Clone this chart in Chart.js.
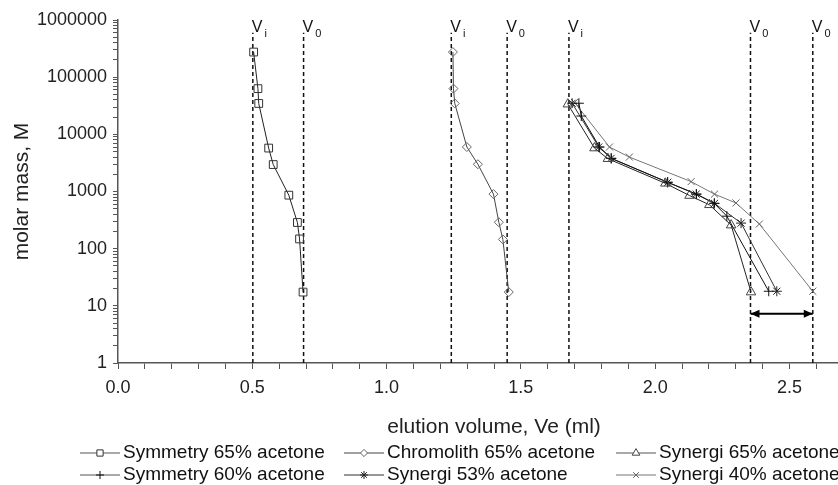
<!DOCTYPE html>
<html>
<head>
<meta charset="utf-8">
<script src="https://cdn.jsdelivr.net/npm/chart.js@4.4.0/dist/chart.umd.min.js"></script>
<style>
html, body { margin: 0; padding: 0; background: #fff; overflow: hidden; }
#wrap { width: 880px; height: 485px; }
</style>
</head>
<body>
<div id="wrap"><canvas id="canvas" width="880" height="485"></canvas></div>
<script>
// molar mass (M) and elution volume (ml) of each standard
const symmetry65M = [275000, 63000, 34700, 5750, 2960, 863, 287, 148, 17.4];
const symmetry65Ve = [0.505, 0.521, 0.524, 0.561, 0.578, 0.636, 0.668, 0.676, 0.689];
const chromolith65M = [275000, 63000, 34700, 6000, 3000, 900, 290, 145, 17.4];
const chromolith65Ve = [1.247, 1.249, 1.254, 1.299, 1.340, 1.398, 1.418, 1.433, 1.455];
const synergi65M = [33700, 5750, 3750, 1390, 850, 585, 258, 17.4];
const synergi65Ve = [1.675, 1.774, 1.824, 2.038, 2.128, 2.202, 2.283, 2.357];
const symmetry60M = [35000, 20900, 6000, 3800, 1450, 900, 620, 370, 18];
const symmetry60Ve = [1.716, 1.725, 1.793, 1.837, 2.046, 2.154, 2.220, 2.267, 2.423];
const synergi53M = [35000, 6000, 3800, 1450, 900, 620, 280, 18];
const synergi53Ve = [1.691, 1.790, 1.836, 2.047, 2.153, 2.221, 2.320, 2.453];
const synergi40M = [36000, 6000, 4000, 1490, 900, 630, 270, 18];
const synergi40Ve = [1.700, 1.830, 1.904, 2.134, 2.221, 2.301, 2.388, 2.587];

// Vi / V0 marker lines
const vLineVe = [0.502, 0.691, 1.241, 1.449, 1.679, 2.355, 2.587];
const vLineSub = ['i', '0', 'i', '0', 'i', '0', '0'];
const vLineTopM = 600000;
const arrowM = 7.3;

const xTickLabels = ['0.0', '0.5', '1.0', '1.5', '2.0', '2.5'];
const yTickLabels = ['1', '10', '100', '1000', '10000', '100000', '1000000'];

const FONT = '"Liberation Sans", Arial, sans-serif';

function pts(xs, ys) {
  return xs.map((v, i) => ({ x: v, y: ys[i] }));
}

function series(label, xs, ys, style, radius, line, mark) {
  return {
    label: label,
    data: pts(xs, ys),
    showLine: true,
    borderColor: line,
    borderWidth: 1,
    tension: 0,
    pointStyle: style,
    pointRadius: radius,
    pointBorderColor: mark,
    pointBackgroundColor: 'rgba(255,255,255,0)',
    pointBorderWidth: 1,
    inLegend: true
  };
}

const datasets = [
  series('Symmetry 65% acetone', symmetry65Ve, symmetry65M, 'rect', 5.5, '#222', '#333'),
  series('Chromolith 65% acetone', chromolith65Ve, chromolith65M, 'rectRot', 4.5, '#444', '#666'),
  series('Synergi 65% acetone', synergi65Ve, synergi65M, 'triangle', 5.5, '#222', '#444'),
  series('Symmetry 60% acetone', symmetry60Ve, symmetry60M, 'cross', 5, '#111', '#111'),
  series('Synergi 53% acetone', synergi53Ve, synergi53M, 'star', 5, '#333', '#222'),
  series('Synergi 40% acetone', synergi40Ve, synergi40M, 'crossRot', 5, '#777', '#666')
];

vLineVe.forEach(function(v) {
  datasets.push({
    data: [{ x: v, y: 1 }, { x: v, y: vLineTopM }],
    showLine: true,
    borderColor: '#111',
    borderWidth: 1.5,
    borderDash: [4, 3],
    pointRadius: 0
  });
});

datasets.push({
  data: [{ x: vLineVe[5], y: arrowM }, { x: vLineVe[6], y: arrowM }],
  showLine: true,
  borderColor: '#000',
  borderWidth: 2,
  pointRadius: 0
});

const overlay = {
  id: 'overlay',
  afterDatasetsDraw(chart) {
    const ctx = chart.ctx;
    const xs = chart.scales.x, ys = chart.scales.y;
    ctx.save();
    ctx.fillStyle = '#111';
    ctx.textAlign = 'left';
    ctx.textBaseline = 'alphabetic';
    vLineVe.forEach(function(v, i) {
      const px = xs.getPixelForValue(v);
      ctx.font = '16px ' + FONT;
      ctx.fillText('V', px - 1, 32);
      const w = ctx.measureText('V').width;
      ctx.font = '11px ' + FONT;
      ctx.fillText(vLineSub[i], px + w + 1, 37);
    });

    // arrow heads
    const ay = ys.getPixelForValue(arrowM);
    const a1 = xs.getPixelForValue(vLineVe[5]);
    const a2 = xs.getPixelForValue(vLineVe[6]);
    ctx.fillStyle = '#000';
    ctx.beginPath();
    ctx.moveTo(a1, ay); ctx.lineTo(a1 + 9, ay - 4); ctx.lineTo(a1 + 9, ay + 4); ctx.closePath();
    ctx.moveTo(a2, ay); ctx.lineTo(a2 - 9, ay - 4); ctx.lineTo(a2 - 9, ay + 4); ctx.closePath();
    ctx.fill();

    // legend, 3 columns x 2 rows
    const cols = [80, 344, 616];
    const rows = [453, 475];
    let k = 0;
    chart.data.datasets.forEach(function(ds) {
      if (!ds.inLegend) return;
      const x0 = cols[k % 3], y0 = rows[Math.floor(k / 3)];
      ctx.strokeStyle = ds.borderColor === '#222' || ds.borderColor === '#111' ? '#555' : ds.borderColor;
      ctx.lineWidth = 1.2;
      ctx.beginPath();
      ctx.moveTo(x0, y0); ctx.lineTo(x0 + 40, y0);
      ctx.stroke();
      ctx.strokeStyle = ds.pointBorderColor;
      ctx.fillStyle = '#fff';
      ctx.lineWidth = 1;
      Chart.helpers.drawPoint(ctx, {
        pointStyle: ds.pointStyle,
        radius: ds.pointRadius * 0.8,
        rotation: 0,
        borderWidth: 1
      }, x0 + 20, y0);
      ctx.fillStyle = '#111';
      ctx.font = '19px ' + FONT;
      ctx.textBaseline = 'middle';
      ctx.fillText(ds.label, x0 + 43, y0);
      k++;
    });
    ctx.restore();
  }
};

function createChart() {
  const canvas = document.getElementById('canvas');
  const config = {
    type: 'scatter',
    data: { datasets: datasets },
    options: {
      responsive: false,
      animation: false,
      devicePixelRatio: 1,
      layout: { padding: { top: 20, right: 10, bottom: 45.4, left: 0 } },
      plugins: { legend: { display: false }, tooltip: { enabled: false } },
      scales: {
        x: {
          type: 'linear',
          min: 0,
          max: 2.8,
          afterBuildTicks: function(scale) {
            const t = [];
            for (let i = 0; i <= 28; i++) t.push({ value: i / 10 });
            scale.ticks = t;
          },
          ticks: {
            autoSkip: false,
            maxRotation: 0,
            padding: 8,
            color: '#222',
            font: { family: FONT, size: 18 },
            callback: function(v) {
              const s = Number(v).toFixed(1);
              return xTickLabels.includes(s) ? s : '';
            }
          },
          grid: { drawOnChartArea: false, drawTicks: true, tickLength: 6, tickColor: '#555', tickWidth: 1 },
          border: { display: true, color: '#555', width: 1.5 },
          title: {
            display: true,
            text: 'elution volume, Ve (ml)',
            color: '#222',
            font: { family: FONT, size: 21 },
            padding: { top: 7.8, bottom: 0 }
          }
        },
        y: {
          type: 'logarithmic',
          min: 1,
          max: 1000000,
          afterFit: function(scale) { scale.width = 118; },
          afterBuildTicks: function(scale) {
            const t = [];
            for (let e = 0; e < 6; e++) {
              for (let m = 1; m < 10; m++) t.push({ value: m * Math.pow(10, e) });
            }
            t.push({ value: 1000000 });
            scale.ticks = t;
          },
          ticks: {
            autoSkip: false,
            padding: 6,
            color: '#222',
            font: { family: FONT, size: 18 },
            callback: function(v) {
              const s = String(v);
              return yTickLabels.includes(s) ? s : '';
            }
          },
          grid: { drawOnChartArea: false, drawTicks: true, tickLength: 5, tickColor: '#555', tickWidth: 1 },
          border: { display: true, color: '#555', width: 1.5 },
          title: {
            display: true,
            text: 'molar mass, M',
            color: '#222',
            font: { family: FONT, size: 21 },
            padding: { top: 9.4, bottom: 0 }
          }
        }
      }
    },
    plugins: [overlay]
  };
  const chart = new Chart(canvas, config);
}

window.onload = function() {
  createChart();
};
</script>
</body>
</html>
